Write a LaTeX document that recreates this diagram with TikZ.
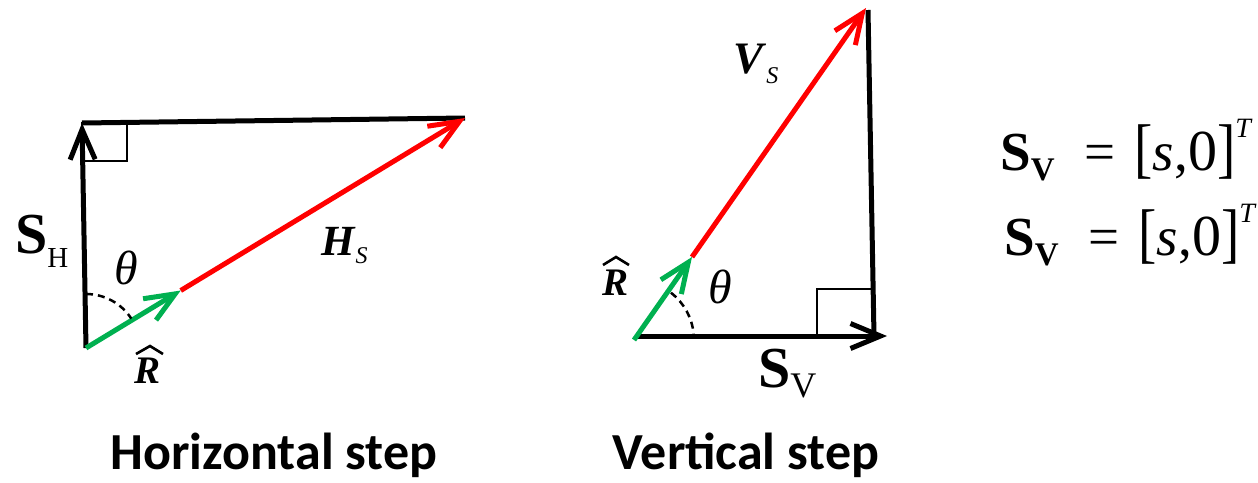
\documentclass[tikz,border=0pt]{standalone}
\usepackage{fontspec}
\setmainfont{Liberation Serif}
\newfontfamily\capfont{Carlito}
\usetikzlibrary{arrows.meta,calc}
\definecolor{vred}{RGB}{255,0,0}
\definecolor{vgreen}{RGB}{0,176,80}
\tikzset{
  barb/.style={-{Straight Barb[length=30pt,width=25pt]}},
  blk/.style={line width=5pt,black},
  redvec/.style={line width=5pt,vred},
  greenvec/.style={line width=5pt,vgreen},
  rightsq/.style={line width=2pt,black},
  anglearc/.style={line width=2.5pt,black,dash pattern=on 7pt off 5pt},
  hatline/.style={line width=2.6pt,black,line join=miter},
  lbl/.style={inner sep=0pt,anchor=base west},
  caption/.style={inner sep=0pt,anchor=base,font=\capfont\bfseries\fontsize{52}{60}\selectfont},
}
\newcommand{\sveq}{{\fontsize{55}{60}\selectfont\textbf{S}}\raisebox{-10pt}{\fontsize{33}{36}\selectfont\textbf{V}}\hspace{30pt}{\fontsize{55}{60}\selectfont =\hspace{19pt}\scalebox{1}[1.2]{[}\textit{s},{\fontsize{58}{60}\selectfont 0}\scalebox{1}[1.2]{]}}\raisebox{33pt}{\fontsize{28}{30}\selectfont\textit{T}}}
\begin{document}
\begin{tikzpicture}[x=1pt,y=-1pt]
\path[use as bounding box] (0,0) rectangle (1258,482);
% ---------- Horizontal step ----------
\coordinate (O1) at (86,348);
\coordinate (T1) at (82,123);
\coordinate (E1) at (465,118);
\coordinate (G1) at ($(O1)!0.25!(E1)$);
\draw[blk] (T1) -- (E1);
\draw[rightsq] (T1) rectangle ++(45,38);
\draw[blk,barb] (O1) -- (T1);
\draw[redvec,barb] (G1) -- (E1);
\draw[greenvec,barb] (O1) -- (G1);
\draw[anglearc] ($(O1)+(-90:54)$) arc (-90:-33:54);
\node[lbl] (SH) at (15,253) {{\fontsize{58}{60}\selectfont\textbf{S}}\raisebox{-14pt}{\fontsize{29}{30}\selectfont H}};
\node[inner sep=0pt] (th1) at (126,268) {\fontsize{48}{50}\selectfont\textit{θ}};
\node[lbl] (HS) at (321,255) {{\fontsize{43}{46}\selectfont\textbf{\textit{H}}}\raisebox{-8pt}{\fontsize{24}{26}\selectfont\textit{S}}};
\node[inner sep=0pt,anchor=base] (R1) at (148,383) {\fontsize{39}{40}\selectfont\textbf{\textit{R}}};
\draw[hatline] ($(R1.base)+(-12,-29)$) -- ($(R1.base)+(2,-37)$) -- ($(R1.base)+(15,-29)$);
\node[caption] (cap1) at (274,469) {Horizontal step};
% ---------- Vertical step ----------
\coordinate (O2) at (634,340);
\coordinate (E2) at (866,8);
\coordinate (G2) at ($(O2)!0.25!(E2)$);
\coordinate (B2) at (636,336);
\coordinate (H2) at (887,336);
\coordinate (V2t) at (868,10);
\coordinate (C2) at (874,336);
\draw[blk] (V2t) -- (C2);
\draw[rightsq] (C2) rectangle (817,289);
\draw[blk,barb] (B2) -- (H2);
\draw[redvec,barb] (G2) -- (E2);
\draw[greenvec,barb] (O2) -- (G2);
\draw[anglearc] ($(O2)+(-52:60)$) arc (-52:-6:60);
\node[lbl] (VS) at (733,73) {{\fontsize{45}{46}\selectfont\textbf{\textit{V}}}\raisebox{-10pt}{\fontsize{24}{26}\selectfont\textit{S}}};
\node[inner sep=0pt] (th2) at (720,287) {\fontsize{48}{50}\selectfont\textit{θ}};
\node[inner sep=0pt,anchor=base] (R2) at (615,295) {\fontsize{39}{40}\selectfont\textbf{\textit{R}}};
\draw[hatline] ($(R2.base)+(-12,-30)$) -- ($(R2.base)+(1,-38)$) -- ($(R2.base)+(14,-30)$);
\node[lbl] (SV) at (758,387) {{\fontsize{58}{60}\selectfont\textbf{S}}\raisebox{-10pt}{\fontsize{36}{38}\selectfont V}};
\node[caption] (cap2) at (746,469) {Vertical step};
% ---------- Equations ----------
\node[lbl] (eq1) at (1000,170) {\sveq};
\node[lbl] (eq2) at (1004,255) {\sveq};
\end{tikzpicture}
\end{document}
